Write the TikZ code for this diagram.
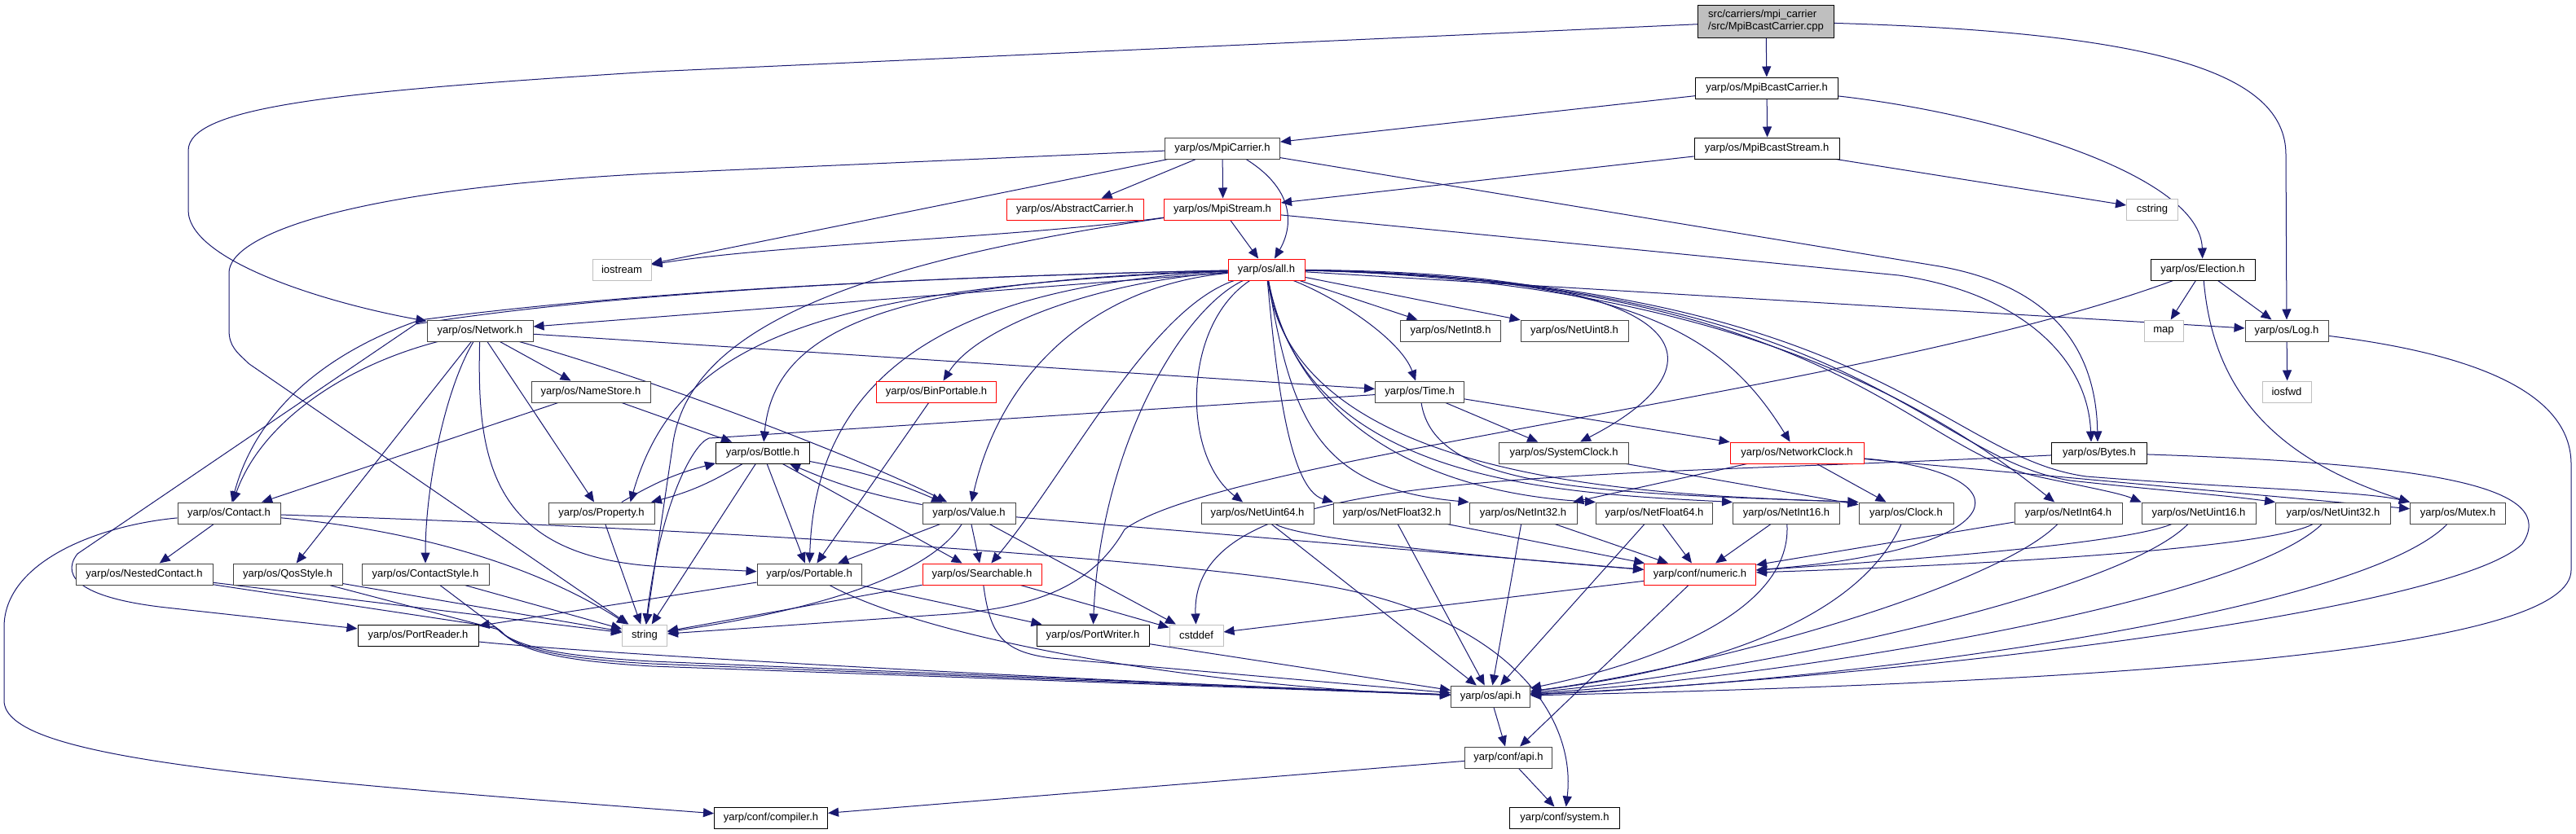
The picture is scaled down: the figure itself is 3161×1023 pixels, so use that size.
\documentclass[tikz,border=0pt]{standalone}
\usepackage{fontspec}
\setmainfont{Liberation Sans}
\usetikzlibrary{arrows.meta}
\definecolor{edgecol}{RGB}{25,25,112}
\definecolor{sysgrey}{RGB}{191,191,191}
\definecolor{dkgrey}{RGB}{68,68,68}
\definecolor{truncred}{RGB}{255,0,0}
\pgfdeclarelayer{background}
\pgfsetlayers{background,main}
\tikzset{
  hb/.style={draw=dkgrey, fill=white, line width=1pt, inner sep=0pt, minimum height=26pt},
  hk/.style={hb, draw=black},
  ht/.style={hb, draw=truncred},
  hs/.style={hb, draw=sysgrey},
  rootbox/.style={draw=black, fill=sysgrey, line width=1pt, inner sep=0pt, minimum height=40pt, minimum width=167pt, align=left},
  edg/.style={draw=edgecol, line width=1pt, -{Triangle[length=13pt,width=11pt]}},
}
\begin{document}
\begin{tikzpicture}[x=1pt, y=-1pt, font=\fontsize{13pt}{15pt}\selectfont]
\useasboundingbox (0,0) rectangle (3161,1023);
% ---------------- nodes ----------------
\node[rootbox] (root) at (2167,26) {src/carriers/mpi\_carrier\\/src/MpiBcastCarrier.cpp};
\node[hk, minimum width=175pt] (mbc) at (2168,108) {yarp/os/MpiBcastCarrier.h};
\node[hk, minimum width=178pt] (mbs) at (2168,182) {yarp/os/MpiBcastStream.h};
\node[hb, minimum width=141pt] (mpic) at (1500,182) {yarp/os/MpiCarrier.h};
\node[ht, minimum width=168pt] (abs) at (1319,257) {yarp/os/AbstractCarrier.h};
\node[ht, minimum width=143pt] (mpis) at (1500,257) {yarp/os/MpiStream.h};
\node[hs, minimum width=63pt] (cstring) at (2641,257) {cstring};
\node[hs, minimum width=72pt] (ios) at (763,331) {iostream};
\node[ht, minimum width=94pt] (all) at (1554,331) {yarp/os/all.h};
\node[hk, minimum width=128pt] (elec) at (2703,331) {yarp/os/Election.h};
\node[hb, minimum width=130pt] (net) at (589,406) {yarp/os/Network.h};
\node[hb, minimum width=123pt] (ni8) at (1780,406) {yarp/os/NetInt8.h};
\node[hb, minimum width=132pt] (nu8) at (1932,406) {yarp/os/NetUint8.h};
\node[hs, minimum width=48pt] (map) at (2655,406) {map};
\node[hb, minimum width=102pt] (log) at (2806,406) {yarp/os/Log.h};
\node[hb, minimum width=146pt] (ns) at (725,481) {yarp/os/NameStore.h};
\node[ht, minimum width=147pt] (binp) at (1149,481) {yarp/os/BinPortable.h};
\node[hb, minimum width=109pt] (time) at (1742,481) {yarp/os/Time.h};
\node[hs, minimum width=60pt] (iosfwd) at (2806,481) {iosfwd};
\node[hk, minimum width=115pt] (bottle) at (936,556) {yarp/os/Bottle.h};
\node[hb, minimum width=159pt] (sysc) at (1919,556) {yarp/os/SystemClock.h};
\node[ht, minimum width=164pt] (netc) at (2205,556) {yarp/os/NetworkClock.h};
\node[hk, minimum width=117pt] (bytes) at (2576,556) {yarp/os/Bytes.h};
\node[hb, minimum width=126pt] (contact) at (281,630) {yarp/os/Contact.h};
\node[hb, minimum width=130pt] (prop) at (738,630) {yarp/os/Property.h};
\node[hb, minimum width=114pt] (value) at (1189,630) {yarp/os/Value.h};
\node[hb, minimum width=138pt] (nu64) at (1543,630) {yarp/os/NetUint64.h};
\node[hb, minimum width=143pt] (nf32) at (1708,630) {yarp/os/NetFloat32.h};
\node[hb, minimum width=132pt] (ni32) at (1869,630) {yarp/os/NetInt32.h};
\node[hb, minimum width=143pt] (nf64) at (2030,630) {yarp/os/NetFloat64.h};
\node[hb, minimum width=131pt] (ni16) at (2192,630) {yarp/os/NetInt16.h};
\node[hb, minimum width=116pt] (clock) at (2339,630) {yarp/os/Clock.h};
\node[hb, minimum width=132pt] (ni64) at (2538,630) {yarp/os/NetInt64.h};
\node[hb, minimum width=140pt] (nu16) at (2698,630) {yarp/os/NetUint16.h};
\node[hb, minimum width=141pt] (nu32) at (2863,630) {yarp/os/NetUint32.h};
\node[hb, minimum width=117pt] (mutex) at (3016,630) {yarp/os/Mutex.h};
\node[hb, minimum width=168pt] (nested) at (177,705) {yarp/os/NestedContact.h};
\node[hb, minimum width=134pt] (qos) at (353,705) {yarp/os/QosStyle.h};
\node[hb, minimum width=156pt] (cstyle) at (522,705) {yarp/os/ContactStyle.h};
\node[hb, minimum width=128pt] (portable) at (993,705) {yarp/os/Portable.h};
\node[ht, minimum width=146pt] (search) at (1205,705) {yarp/os/Searchable.h};
\node[ht, minimum width=137pt] (numeric) at (2086,705) {yarp/conf/numeric.h};
\node[hk, minimum width=148pt] (preader) at (513,780) {yarp/os/PortReader.h};
\node[hs, minimum width=55pt] (string) at (791,780) {string};
\node[hk, minimum width=138pt] (pwriter) at (1341,780) {yarp/os/PortWriter.h};
\node[hs, minimum width=66pt] (cstddef) at (1468,780) {cstddef};
\node[hb, minimum width=97pt] (osapi) at (1829,855) {yarp/os/api.h};
\node[hb, minimum width=107pt] (confapi) at (1851,930) {yarp/conf/api.h};
\node[hk, minimum width=139pt] (compiler) at (946,1004) {yarp/conf/compiler.h};
\node[hk, minimum width=135pt] (system) at (1920,1004) {yarp/conf/system.h};
% ---------------- edges ----------------
\begin{pgfonlayer}{background}
\fill[white] (0,0) rectangle (3161,1023);
% root
\draw[edg] (root) -- (mbc);
\draw[edg] (root) -- (800,88) .. controls (420,112) and (231,130) .. (231,185) -- (231,258) .. controls (231,320) and (400,372) .. (net);
\draw[edg] (root) .. controls (2650,40) and (2805,90) .. (2805,190) -- (log);
% MpiBcastCarrier
\draw[edg] (mbc) -- (mpic);
\draw[edg] (mbc) -- ([xshift=0.6pt]mbs.north);
\draw[edg] (mbc) .. controls (2450,140) and (2700,215) .. (elec);
% MpiBcastStream
\draw[edg] (mbs) -- (mpis);
\draw[edg] (mbs) -- (cstring);
% MpiCarrier
\draw[edg] (mpic) -- (800,213) .. controls (420,233) and (281,290) .. (281,335) -- (281,405) .. controls (281,425) and (290,432) .. (306,447) -- (string);
\draw[edg] (mpic) -- (ios);
\draw[edg] (mpic) -- (abs);
\draw[edg] (mpic) -- ([xshift=0.6pt]mpis.north);
\draw[edg] ([xshift=-42pt]mpic.south east) .. controls (1600,240) and (1580,290) .. ([xshift=10pt]all.north);
\draw[edg] (mpic) -- (2380,327) .. controls (2520,352) and (2572,430) .. ([xshift=-2pt]bytes.north);
% MpiStream
\draw[edg] (mpis) -- (2330,338) .. controls (2480,360) and (2562,440) .. ([xshift=-10pt]bytes.north);
\draw[edg] (mpis) .. controls (1250,292) and (950,300) .. (ios);
\draw[edg] (mpis) .. controls (1000,330) and (840,420) .. (825,550) -- (string);
\draw[edg] (mpis) -- (all);
% all.h
\draw[edg] (all) -- (net);
\draw[edg] (all) .. controls (1000,343) and (700,368) .. (515,393) .. controls (380,440) and (310,520) .. (contact);
\draw[edg] (all) .. controls (1000,343) and (700,368) .. (510,398) -- (95,680) .. controls (72,710) and (105,735) .. (204,746) -- (preader);
\draw[edg] (all) .. controls (1100,345) and (950,400) .. (bottle);
\draw[edg] (all) .. controls (1000,352) and (830,420) .. ([xshift=-30pt]prop.north east);
\draw[edg] (all) .. controls (1150,350) and (1000,470) .. (portable);
\draw[edg] (all) .. controls (1350,345) and (1200,400) .. (binp);
\draw[edg] (all) .. controls (1350,350) and (1230,450) .. (value);
\draw[edg] (all) .. controls (1410,380) and (1310,580) .. (search);
\draw[edg] (all) .. controls (1450,380) and (1350,550) .. (pwriter);
\draw[edg] (all) .. controls (1450,400) and (1450,560) .. (nu64);
\draw[edg] (all) -- (ni8);
\draw[edg] (all) -- (nu8);
\draw[edg] (all) .. controls (1650,370) and (1720,420) .. (time);
\draw[edg] (all) .. controls (2100,335) and (2120,450) .. ([xshift=20pt]sysc.north);
\draw[edg] (all) .. controls (2020,338) and (2120,420) .. (netc);
\draw[edg] (all) .. controls (1565,450) and (1580,600) .. (nf32.north west);
\draw[edg] (all) .. controls (1585,520) and (1620,600) .. (ni32.north west);
\draw[edg] (all) .. controls (1590,520) and (1750,605) .. (nf64.north west);
\draw[edg] (all) .. controls (1600,590) and (1900,605) .. (ni16.north west);
\draw[edg] (all) .. controls (1590,600) and (2050,608) .. (clock.north west);
\draw[edg] (all) .. controls (2150,345) and (2400,520) .. (ni64);
\draw[edg] (all) .. controls (2250,345) and (2340,550) .. (2500,585) .. controls (2560,598) and (2600,605) .. (nu16.north west);
\draw[edg] (all) .. controls (2280,345) and (2360,560) .. (2540,590) .. controls (2680,605) and (2720,607) .. (nu32.north west);
\draw[edg] (all) .. controls (2300,345) and (2380,560) .. (2560,585) .. controls (2750,600) and (2900,603) .. (mutex.north west);
\draw[edg] (all) -- (log);
% Network.h
\draw[edg] (net) .. controls (420,450) and (320,520) .. (contact);
\draw[edg] (net) -- (ns);
\draw[edg] (net) -- (prop);
\draw[edg] (net) -- (time);
\draw[edg] (net) -- (qos);
\draw[edg] (net) .. controls (545,480) and (522,600) .. (cstyle);
\draw[edg] (net) .. controls (585,560) and (600,680) .. (800,695) -- (portable);
\draw[edg] (net) .. controls (800,465) and (1050,560) .. (value);
% NameStore, BinPortable
\draw[edg] (ns) -- (contact);
\draw[edg] (ns) -- (bottle);
\draw[edg] (binp) -- (portable);
% Time
\draw[edg] (time) -- (sysc);
\draw[edg] (time) -- (netc);
\draw[edg] (time) .. controls (1760,600) and (1950,605) .. (clock.north west);
\draw[edg] (time) -- (870,538) .. controls (850,545) and (810,620) .. (string);
% clocks
\draw[edg] (sysc) -- (clock);
\draw[edg] (netc) -- (clock);
\draw[edg] (netc) -- (ni32);
\draw[edg] (netc) .. controls (2490,580) and (2480,675) .. (numeric);
\draw[edg] (netc) -- (mutex);
% Bottle, Property, Value
\draw[edg] (bottle) to[bend left=8] (prop);
\draw[edg] (prop) to[bend left=8] (bottle);
\draw[edg] (bottle) to[bend left=6] (value);
\draw[edg] (value) to[bend left=6] (bottle);
\draw[edg] (bottle) -- (portable);
\draw[edg] (bottle) -- (search);
\draw[edg] (bottle) -- (string);
\draw[edg] (prop) -- (string);
\draw[edg] (value) -- (portable);
\draw[edg] (value) -- (search);
\draw[edg] (value) .. controls (1150,690) and (1060,740) .. (string);
\draw[edg] (value) -- (cstddef);
\draw[edg] (value) -- (numeric);
% Contact
\draw[edg] (contact) -- (nested);
\draw[edg] (contact) .. controls (500,650) and (650,690) .. (string);
\draw[edg] (contact) .. controls (120,645) and (5,690) .. (5,770) -- (5,860) .. controls (5,930) and (300,955) .. (compiler);
\draw[edg] (contact) .. controls (900,650) and (1400,685) .. (1600,715) .. controls (1850,750) and (1935,880) .. (system);
% NestedContact, QosStyle, ContactStyle, PortReader
\draw[edg] (nested) -- (string);
\draw[edg] (nested) -- (608,770) .. controls (630,795) and (690,806) .. (800,812) -- (osapi);
\draw[edg] (qos) -- (string);
\draw[edg] (qos) -- (612,773) .. controls (634,798) and (694,809) .. (800,815) -- (osapi);
\draw[edg] (cstyle) -- (string);
\draw[edg] (cstyle) -- (616,776) .. controls (638,801) and (698,812) .. (800,818) -- (osapi);
\draw[edg] (preader) .. controls (700,800) and (1200,830) .. (osapi);
% Portable, Searchable, PortWriter
\draw[edg] (portable) -- (preader);
\draw[edg] (portable) -- (pwriter);
\draw[edg] (portable) .. controls (1150,790) and (1500,845) .. (osapi);
\draw[edg] (search) -- (string);
\draw[edg] (search) -- (cstddef);
\draw[edg] (search) .. controls (1215,780) and (1230,800) .. (1290,808) -- (osapi);
\draw[edg] (pwriter) -- (osapi);
% numeric, api
\draw[edg] (numeric) -- (cstddef);
\draw[edg] (numeric) -- (confapi);
\draw[edg] (osapi) -- (confapi);
\draw[edg] (confapi) -- (system);
\draw[edg] (confapi) -- (compiler);
% Net* types
\draw[edg] (nu64) .. controls (1600,665) and (1900,690) .. (numeric);
\draw[edg] (nu64) -- (osapi);
\draw[edg] (nf32) -- (numeric);
\draw[edg] (nf32) -- (osapi);
\draw[edg] (ni32) -- (numeric);
\draw[edg] (ni32) -- (osapi);
\draw[edg] (nf64) -- (numeric);
\draw[edg] (nf64) -- (osapi);
\draw[edg] (ni16) -- (numeric);
\draw[edg] (ni16) .. controls (2200,760) and (2000,820) .. (osapi);
\draw[edg] (clock) .. controls (2290,740) and (2150,815) .. (osapi);
\draw[edg] (ni64) -- (numeric);
\draw[edg] (ni64) .. controls (2450,720) and (2100,820) .. (osapi);
\draw[edg] (nu16) .. controls (2600,670) and (2300,690) .. (numeric);
\draw[edg] (nu16) .. controls (2600,730) and (2150,825) .. (osapi);
\draw[edg] (nu32) .. controls (2780,675) and (2400,695) .. (numeric);
\draw[edg] (nu32) .. controls (2750,740) and (2200,830) .. (osapi);
\draw[edg] (mutex) .. controls (2900,750) and (2300,835) .. (osapi);
% Bytes, Log, Election
\draw[edg] (bytes) .. controls (3000,570) and (3140,600) .. (3095,668) .. controls (3010,750) and (2350,830) .. (osapi);
\draw[edg] (bytes) .. controls (1900,590) and (1460,570) .. (cstddef);
\draw[edg] (log) .. controls (3080,440) and (3155,500) .. (3155,570) -- (3155,700) .. controls (3155,790) and (2700,835) .. (osapi);
\draw[edg] (log) -- ([xshift=0.6pt]iosfwd.north);
\draw[edg] (elec) -- (map);
\draw[edg] (elec) -- (log);
\draw[edg] (elec) .. controls (2715,470) and (2780,560) .. (mutex.north west);
\draw[edg] (elec) .. controls (2300,480) and (1500,560) .. (1380,650) .. controls (1340,720) and (1270,748) .. (1150,755) -- (string);
\end{pgfonlayer}
\end{tikzpicture}
\end{document}
